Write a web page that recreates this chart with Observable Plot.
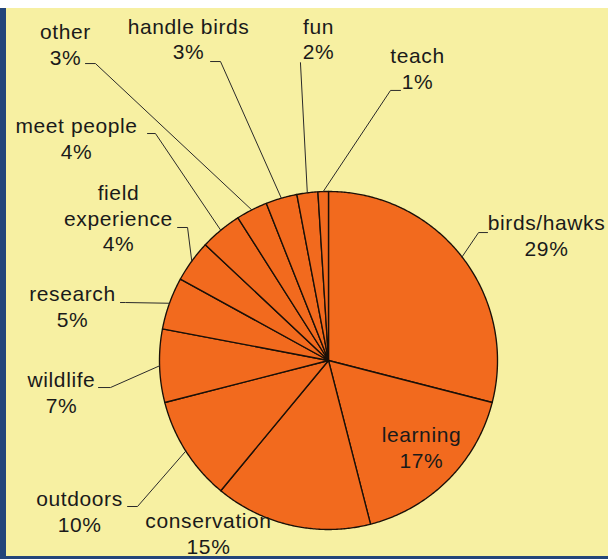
<!DOCTYPE html>
<html>
<head>
<meta charset="utf-8">
<script src="https://cdn.jsdelivr.net/npm/d3@7"></script>
<script src="https://cdn.jsdelivr.net/npm/@observablehq/plot@0.6"></script>
<style>
  html, body { margin: 0; padding: 0; background: #fff; }
  #top { width: 608px; height: 8px; background: #ffffff; }
  #frame { width: 602px; height: 548px; border-left: 6px solid #23457a; border-bottom: 3px solid #23457a; background: #f7f0a2; }
  #frame svg { display: block; }
</style>
</head>
<body>
<div id="top"></div>
<div id="frame"></div>
<script>
// ---- data ----
const categories = ["birds/hawks", "learning", "conservation", "outdoors", "wildlife", "research",
  "field\nexperience", "meet people", "other", "handle birds", "fun", "teach"];
const shares = [29, 17, 15, 10, 7, 5, 4, 4, 3, 3, 2, 1];

// ---- layout (pie radius = 1, centre = 0,0) ----
// top-centre of each label block
const labelAnchor = [[1.290, 0.876], [0.550, -0.379], [-0.710, -0.888], [-1.473, -0.757],
  [-1.580, -0.053], [-1.515, 0.456], [-1.243, 1.053], [-1.491, 1.450], [-1.556, 2.006],
  [-0.828, 2.036], [-0.059, 2.036], [0.527, 1.864]];
// leader line: [outer end, elbow] (null = no leader)
const leaderPts = [
  [[0.941, 0.757], [0.888, 0.757]],
  null,
  null,
  [[-1.189, -0.864], [-1.130, -0.864]],
  [[-1.361, -0.160], [-1.290, -0.160]],
  [[-1.231, 0.343], [-1.201, 0.343]],
  [[-0.893, 0.787], [-0.834, 0.787]],
  [[-1.071, 1.343], [-1.024, 1.343]],
  [[-1.438, 1.757], [-1.379, 1.757]],
  [[-0.698, 1.769], [-0.639, 1.769]],
  [[-0.166, 1.763], [-0.166, 1.763]],
  [[0.426, 1.598], [0.367, 1.598]]
];

const arcs = d3.pie().sort(null).value(d => d)(shares);

// slice outlines
const slicePts = [];
arcs.forEach((a, i) => {
  slicePts.push({k: i, x: 0, y: 0});
  const n = Math.max(2, Math.ceil((a.endAngle - a.startAngle) / (Math.PI / 360)));
  for (let j = 0; j <= n; j++) {
    const t = a.startAngle + (a.endAngle - a.startAngle) * j / n;
    slicePts.push({k: i, x: Math.sin(t), y: Math.cos(t)});
  }
});

// leader lines
const leaderData = [];
arcs.forEach((a, i) => {
  const p = leaderPts[i];
  if (!p) return;
  const m = (a.startAngle + a.endAngle) / 2;
  leaderData.push({k: i, x: p[0][0], y: p[0][1]});
  leaderData.push({k: i, x: p[1][0], y: p[1][1]});
  leaderData.push({k: i, x: Math.sin(m), y: Math.cos(m)});
});

const labels = categories.map((c, i) => ({
  text: c + "\n" + shares[i] + "%",
  x: labelAnchor[i][0],
  y: labelAnchor[i][1]
}));

const chart = Plot.plot({
  width: 602,
  height: 548,
  margin: 0,
  x: {domain: [-1.9053, 1.6568], axis: null},
  y: {domain: [-1.1598, 2.0828], axis: null},
  style: {background: "#f7f0a2", letterSpacing: "0.6px", overflow: "visible"},
  marks: [
    Plot.line(slicePts, {x: "x", y: "y", z: "k", curve: "linear-closed", fill: "#f26a1e", stroke: "#1a1008", strokeWidth: 1.35}),
    Plot.line(leaderData, {x: "x", y: "y", z: "k", stroke: "#2a2a2a", strokeWidth: 1}),
    Plot.text(labels, {x: "x", y: "y", text: "text", lineAnchor: "top", lineHeight: 1.2, textAnchor: "middle",
      fontSize: 21, fontFamily: "Liberation Sans, Arial, sans-serif", fill: "#1a1a1a"})
  ]
});
document.getElementById("frame").appendChild(chart);
</script>
</body>
</html>
